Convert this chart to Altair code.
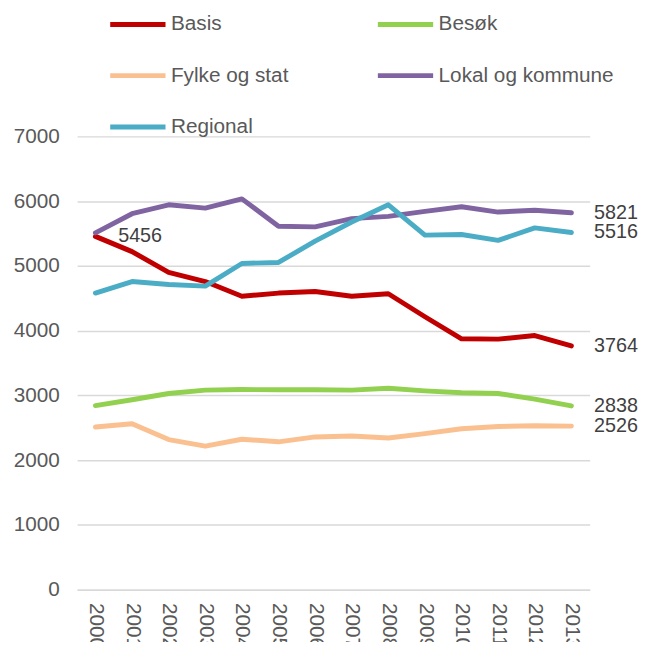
import altair as alt
import pandas as pd

years = [str(y) for y in range(2000, 2014)]
series_names = ["Basis", "Besøk", "Fylke og stat", "Lokal og kommune", "Regional"]
series_colors = ["#C00000", "#92D050", "#FAC090", "#8064A2", "#4BACC6"]

basis = [5456, 5220, 4900, 4758, 4530, 4580, 4605, 4530, 4570, 4215, 3874, 3869, 3924, 3764]
besok = [2842, 2933, 3030, 3081, 3091, 3086, 3086, 3081, 3111, 3070, 3040, 3030, 2943, 2838]
fylke = [2511, 2562, 2318, 2216, 2323, 2283, 2359, 2374, 2343, 2410, 2486, 2521, 2532, 2526]
lokal = [5510, 5806, 5943, 5892, 6035, 5612, 5602, 5730, 5765, 5841, 5913, 5831, 5859, 5821]
regional = [4580, 4758, 4712, 4687, 5037, 5053, 5383, 5678, 5943, 5475, 5485, 5394, 5587, 5516]

y_ticks = [0, 1000, 2000, 3000, 4000, 5000, 6000, 7000]

all_series = [basis, besok, fylke, lokal, regional]
rows = []
for name, vals in zip(series_names, all_series):
    for yr, v in zip(years, vals):
        rows.append({"year": yr, "value": v, "series": name})
df = pd.DataFrame(rows)

# data labels: last value of every series, plus first value of Basis
lab_rows = []
for name, vals in zip(series_names, all_series):
    lab_rows.append({"year": years[-1], "value": vals[-1], "label": str(vals[-1])})
lab_rows.append({"year": years[0], "value": basis[0], "label": str(basis[0])})
df_lab = pd.DataFrame(lab_rows)

FONT = "Liberation Sans"
FS = 21

x_enc = alt.X("year:O", sort=years, title=None,
              axis=alt.Axis(labelAngle=90, labelFontSize=FS, labelFont=FONT, labelColor="#595959",
                            labelPadding=13, ticks=False, domainColor="#d9d9d9", domainWidth=1.5,
                            grid=False))
y_enc = alt.Y("value:Q", title=None, scale=alt.Scale(domain=[0, 7000], nice=False),
              axis=alt.Axis(values=y_ticks, format="d", grid=True, gridColor="#d9d9d9", gridWidth=1.5,
                            domain=False, ticks=False, labelFontSize=FS, labelFont=FONT,
                            labelColor="#595959", labelPadding=18))

lines = alt.Chart(df).mark_line(strokeWidth=5, strokeJoin="round", strokeCap="round").encode(
    x=x_enc,
    y=y_enc,
    color=alt.Color("series:N", sort=series_names,
                    scale=alt.Scale(domain=series_names, range=series_colors),
                    legend=alt.Legend(title=None, orient="none", legendX=31, legendY=-144,
                                      direction="horizontal", columns=2, symbolType="stroke",
                                      symbolSize=3136, symbolStrokeWidth=5, labelFontSize=FS,
                                      labelFont=FONT, labelLimit=400,
                                      labelColor="#595959", labelOffset=3, columnPadding=79,
                                      rowPadding=11, padding=0)),
    order=alt.Order("year:O"),
)

labels = alt.Chart(df_lab).mark_text(align="left", baseline="middle", dx=23, fontSize=20,
                                     font=FONT, color="#404040").encode(
    x=alt.X("year:O", sort=years),
    y=alt.Y("value:Q"),
    text="label:N",
)

chart = alt.layer(lines, labels).properties(
    width=519, height=459,
    autosize=alt.AutoSizeParams(type="none"),
    padding={"left": 70, "top": 126, "right": 55, "bottom": 49},
).configure_view(stroke=None)

chart.save("out.html", embed_options={"renderer": "svg", "actions": False})
